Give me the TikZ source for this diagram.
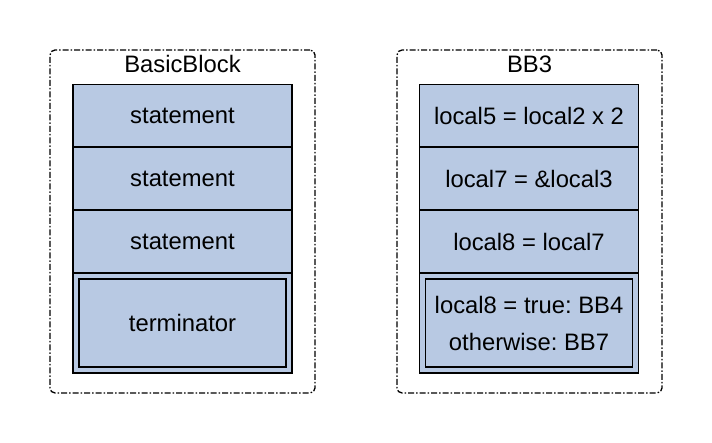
\documentclass[tikz,border=0pt]{standalone}
\usepackage{fontspec}
\setmainfont{Liberation Sans}
\usepackage{xcolor}
\usepackage{tikz}
\definecolor{blockblue}{RGB}{184,201,227}
\frenchspacing

\begin{document}
\begin{tikzpicture}[x=1pt, y=-1pt,
    container/.style={draw, line width=1.3pt, rounded corners=5pt, dash pattern=on 6pt off 2pt on 1.5pt off 2pt, minimum width=265pt, minimum height=343pt, inner sep=0pt},
    row/.style={draw, fill=blockblue, line width=1.5pt, minimum width=219pt, minimum height=63pt, inner sep=0pt, font=\fontsize{23.8}{28}\selectfont},
    term/.style={row, minimum height=100pt},
    terminner/.style={row, minimum width=207pt, minimum height=88pt, align=center, font=\fontsize{23.8}{37}\selectfont}
]
    \useasboundingbox (0,0) rectangle (712,443);

    % left block
    \node[container] (basic) at (182.5,221.5) {};
    \node[font=\fontsize{23.8}{28}\selectfont] (basictitle) at (182.5,64) {BasicBlock};
    \node[row] (s1) at (182.5,116) {statement};
    \node[row] (s2) at (182.5,178.5) {statement};
    \node[row] (s3) at (182.5,241.5) {statement};
    \node[term] (t) at (182.5,323) {};
    \node[terminner] (tin) at (182.5,323) {terminator};

    % right block
    \node[container] (bb) at (529.5,221.5) {};
    \node[font=\fontsize{23.8}{28}\selectfont] (bbtitle) at (529.5,64) {BB3};
    \node[row] (b1) at (529,116) {local5 = local2 x 2};
    \node[row] (b2) at (529,178.5) {local7 = \&local3};
    \node[row] (b3) at (529,241.5) {local8 = local7};
    \node[term] (bt) at (529,323) {};
    \node[terminner] (btin) at (529,323) {local8 = true: BB4\\otherwise: BB7};

\end{tikzpicture}
\end{document}
